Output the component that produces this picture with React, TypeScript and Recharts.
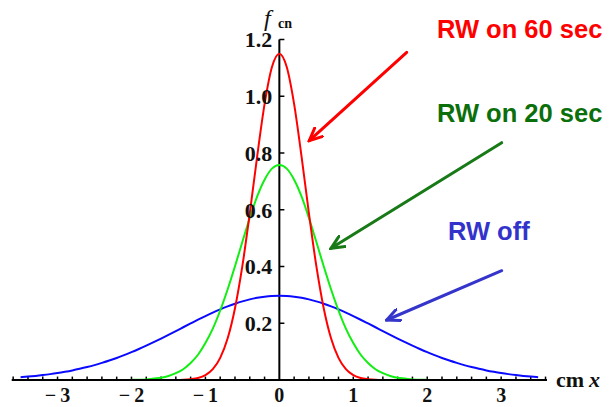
import { LineChart, Line, XAxis, YAxis, ReferenceLine, ReferenceDot } from 'recharts';

// x positions of the samples (cm)
const xs = [
  -3.5, -3.4, -3.3, -3.2, -3.1, -3.0, -2.9, -2.8, -2.7, -2.6, -2.5, -2.4, -2.3, -2.2, -2.1,
  -2.0, -1.9, -1.8, -1.7, -1.6, -1.5, -1.4, -1.3, -1.2, -1.1, -1.0, -0.9, -0.8, -0.7, -0.6,
  -0.5, -0.4, -0.3, -0.2, -0.1, 0, 0.1, 0.2, 0.3, 0.4, 0.5, 0.6, 0.7, 0.8, 0.9, 1.0, 1.1,
  1.2, 1.3, 1.4, 1.5, 1.6, 1.7, 1.8, 1.9, 2.0, 2.1, 2.2, 2.3, 2.4, 2.5, 2.6, 2.7, 2.8, 2.9,
  3.0, 3.1, 3.2, 3.3, 3.4, 3.5,
];

// RW off
const rwOff = [
  0.0099, 0.0120, 0.0145, 0.0174, 0.0207, 0.0245, 0.0289, 0.0338, 0.0394, 0.0456, 0.0525,
  0.0602, 0.0685, 0.0776, 0.0875, 0.0980, 0.1092, 0.1210, 0.1333, 0.1461, 0.1592, 0.1725,
  0.1859, 0.1992, 0.2124, 0.2251, 0.2373, 0.2487, 0.2593, 0.2688, 0.2771, 0.2841, 0.2897,
  0.2937, 0.2962, 0.2970, 0.2962, 0.2937, 0.2897, 0.2841, 0.2771, 0.2688, 0.2593, 0.2487,
  0.2373, 0.2251, 0.2124, 0.1992, 0.1859, 0.1725, 0.1592, 0.1461, 0.1333, 0.1210, 0.1092,
  0.0980, 0.0875, 0.0776, 0.0685, 0.0602, 0.0525, 0.0456, 0.0394, 0.0338, 0.0289, 0.0245,
  0.0207, 0.0174, 0.0145, 0.0120, 0.0099,
];

// RW on 20 sec
const rw20 = [
  null, null, null, null, null, null, null, null, null, null, null, null, null, null, null,
  0.001, 0.001, 0.002, 0.005, 0.008, 0.014, 0.024, 0.038, 0.060, 0.089, 0.130, 0.181, 0.245,
  0.319, 0.401, 0.487, 0.571, 0.647, 0.706, 0.745, 0.758, 0.745, 0.706, 0.647, 0.571, 0.487,
  0.401, 0.319, 0.245, 0.181, 0.130, 0.089, 0.060, 0.038, 0.024, 0.014, 0.008, 0.005, 0.002,
  0.001, 0.001, null, null, null, null, null, null, null, null, null, null, null, null, null,
  null, null,
];

// RW on 60 sec
const rw60 = [
  null, null, null, null, null, null, null, null, null, null, null, null, null, null, null,
  null, null, null, null, null, null, 0.000, 0.001, 0.003, 0.007, 0.017, 0.038, 0.078, 0.146,
  0.253, 0.402, 0.587, 0.788, 0.972, 1.103, 1.150, 1.103, 0.972, 0.788, 0.587, 0.402, 0.253,
  0.146, 0.078, 0.038, 0.017, 0.007, 0.003, 0.001, 0.000, null, null, null, null, null, null,
  null, null, null, null, null, null, null, null, null, null, null, null, null, null, null,
];

const xTicks = [-3, -2, -1, 0, 1, 2, 3];
const xMinor = [
  -3.6, -3.4, -3.2, -3.0, -2.8, -2.6, -2.4, -2.2, -2.0, -1.8, -1.6, -1.4, -1.2, -1.0, -0.8,
  -0.6, -0.4, -0.2, 0.2, 0.4, 0.6, 0.8, 1.0, 1.2, 1.4, 1.6, 1.8, 2.0, 2.2, 2.4, 2.6, 2.8, 3.0,
  3.2, 3.4, 3.6,
];
const yTicks = [0.2, 0.4, 0.6, 0.8, 1.0, 1.2];

const data = xs.map((x, i) => ({ x, off: rwOff[i], on20: rw20[i], on60: rw60[i] }));

const serif = 'Liberation Serif, Times New Roman, serif';
const sans = 'Liberation Sans, Arial, sans-serif';

const fmtX = (v: number) => (v < 0 ? `\u2212\u2009${-v}` : `${v}`);

const Arrow = ({ x1, y1, x2, y2, id, color, w }: any) => (
  <g>
    <defs>
      <marker id={id} viewBox="0 0 16 14" refX="14" refY="7" markerWidth="16" markerHeight="14"
        orient="auto" markerUnits="userSpaceOnUse">
        <path d="M1,1 L14,7 L1,13" fill="none" stroke={color} strokeWidth={w} strokeLinecap="round" />
      </marker>
    </defs>
    <line x1={x1} y1={y1} x2={x2} y2={y2} stroke={color} strokeWidth={w} strokeLinecap="round"
      markerEnd={`url(#${id})`} />
  </g>
);

export default function App() {
  return (
    <div style={{ position: 'absolute', left: 0, top: 0, width: 614, height: 407, background: '#fff' }}>
      <LineChart width={614} height={407} data={data}
        margin={{ top: 39.5, right: 67, bottom: 5, left: 11.7 }}>
        <XAxis dataKey="x" type="number" domain={[-3.62, 3.62]} ticks={xTicks} allowDataOverflow
          tickFormatter={fmtX} tickLine={false} tickSize={0} tickMargin={8} height={22}
          axisLine={{ stroke: '#000', strokeWidth: 2 }}
          tick={{ fill: '#111', fontSize: 20, fontWeight: 'bold', fontFamily: serif }} />
        <YAxis type="number" domain={[0, 1.2]} hide allowDataOverflow />
        <ReferenceLine x={0} stroke="#000" strokeWidth={2} />
        {xMinor.map((t) => (
          <ReferenceLine key={'mx' + t} segment={[{ x: t, y: 0 }, { x: t, y: 0.012 }]} stroke="#000" strokeWidth={1.5} />
        ))}
        {yTicks.map((t) => (
          <ReferenceLine key={'ty' + t} segment={[{ x: 0, y: t }, { x: 0.068, y: t }]} stroke="#000" strokeWidth={1.5} />
        ))}
        {yTicks.map((t) => (
          <ReferenceDot key={'ly' + t} x={0} y={t} r={0} stroke="none" fill="none"
            label={{ value: t.toFixed(1), position: 'left', offset: 7, fill: '#111', fontSize: 22, fontWeight: 'bold', fontFamily: serif }} />
        ))}
        <Line dataKey="off" type="monotone" stroke="#0a0aff" strokeWidth={2} dot={false} activeDot={false} isAnimationActive={false} />
        <Line dataKey="on20" type="monotone" stroke="#11ee11" strokeWidth={2} dot={false} activeDot={false} isAnimationActive={false} />
        <Line dataKey="on60" type="monotone" stroke="#ff0000" strokeWidth={2} dot={false} activeDot={false} isAnimationActive={false} />
      </LineChart>
      <svg width={614} height={407} style={{ position: 'absolute', left: 0, top: 0, pointerEvents: 'none' }}>
        <text x={264} y={26} fontFamily={serif} fontStyle="italic" fontSize={24} fill="#111">f</text>
        <text x={278} y={28} fontFamily={serif} fontWeight="bold" fontSize={14} fill="#111">cn</text>
        <text x={556} y={387} fontFamily={serif} fontWeight="bold" fontSize={22} fill="#111">cm</text>
        <text x={589} y={387} fontFamily={serif} fontWeight="bold" fontStyle="italic" fontSize={22} fill="#111">x</text>
        <text x={437} y={38} fontFamily={sans} fontWeight="bold" fontSize={25.5} fill="#ff0000">RW on 60 sec</text>
        <text x={437} y={122} fontFamily={sans} fontWeight="bold" fontSize={25.5} fill="#0b6f0b">RW on 20 sec</text>
        <text x={448} y={240} fontFamily={sans} fontWeight="bold" fontSize={25.5} fill="#3333cc">RW off</text>
        <Arrow id="aR" x1={406.7} y1={52.3} x2={309.3} y2={140.7} color="#ff0000" w={3} />
        <Arrow id="aG" x1={501.7} y1={142.7} x2={331} y2={248.3} color="#177a17" w={3} />
        <Arrow id="aB" x1={501.7} y1={270.7} x2={386.7} y2={320} color="#3535cc" w={3} />
      </svg>
    </div>
  );
}
